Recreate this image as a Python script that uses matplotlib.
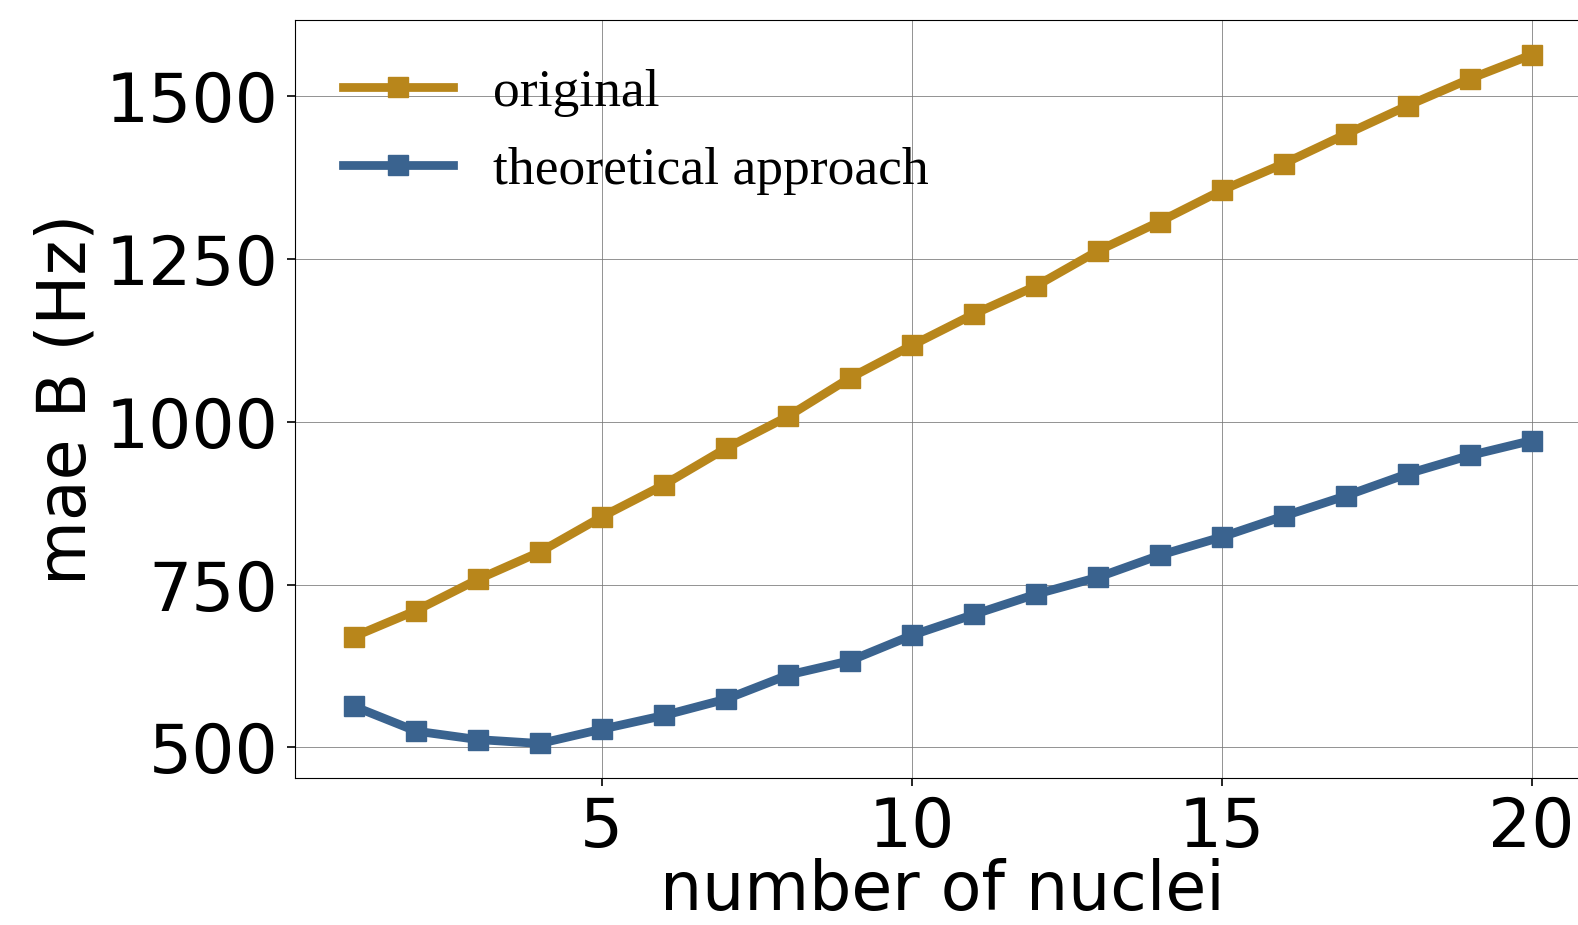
import matplotlib
matplotlib.use("Agg")
import matplotlib.pyplot as plt

nuclei = list(range(1, 21))
original = [670, 710, 758, 800, 854, 903, 959, 1008, 1067, 1117,
            1165, 1208, 1262, 1307, 1355, 1396, 1441, 1485, 1526, 1563]
theoretical = [563, 525, 512, 506, 528, 549, 574, 611, 633, 672,
               704, 735, 761, 795, 823, 855, 886, 920, 948, 971]
labels = ["original", "theoretical approach"]
colors = ["#B8861B", "#3A638F"]

fig = plt.figure(figsize=(15.78, 9.25), dpi=100)
ax = fig.add_axes([0.187, 0.159, 0.821, 0.819])

ax.plot(nuclei, original, marker="s", color=colors[0], lw=6.3, ms=15, label=labels[0])
ax.plot(nuclei, theoretical, marker="s", color=colors[1], lw=6.3, ms=15, label=labels[1])

ax.set_xticks([5, 10, 15, 20])
ax.set_yticks([500, 750, 1000, 1250, 1500])
ax.tick_params(labelsize=49, length=6, width=1.2, pad=6)
ax.grid(True, color="#777777", lw=0.7, alpha=0.8)
ax.set_xlabel("number of nuclei", fontsize=48, labelpad=-2)
ax.set_ylabel("mae B (Hz)", fontsize=48, labelpad=4)
ax.spines["right"].set_visible(False)

ax.legend(loc="upper left", frameon=False, prop={"family": "Liberation Serif", "size": 38.5},
          handlelength=2.05, borderaxespad=0.5, labelspacing=0.55, handletextpad=0.75)

fig.savefig("out.png", dpi=100)
